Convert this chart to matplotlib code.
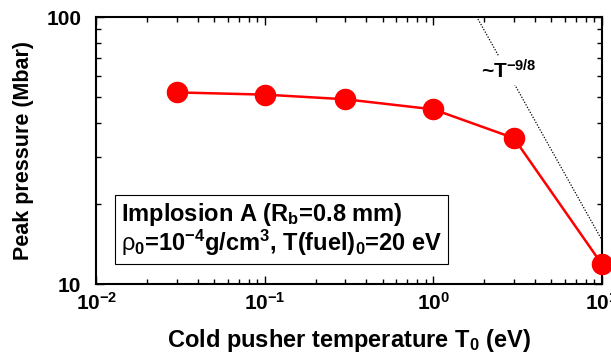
import numpy as np
import matplotlib
matplotlib.use('Agg')
import matplotlib.pyplot as plt
import matplotlib.ticker as ticker

plt.rcParams['font.family'] = ['Liberation Sans', 'DejaVu Sans']
plt.rcParams['font.weight'] = 'bold'
plt.rcParams['axes.labelweight'] = 'bold'
plt.rcParams['mathtext.default'] = 'regular'
plt.rcParams['mathtext.fontset'] = 'custom'
plt.rcParams['mathtext.sf'] = 'Liberation Sans:weight=normal'

# Peak pressure versus cold pusher temperature
T0 = [0.03, 0.1, 0.3, 1.0, 3.0, 10.0]          # eV
P_peak = [52.2, 51.2, 49.2, 45.1, 35.2, 11.85]  # Mbar

# reference scaling line ~T^-9/8, anchored at T = 10 eV
T_ref = [1.5, 10.0]
P_ref_at_10 = 14.6
slope = -9.0 / 8.0

fig = plt.figure(figsize=(6.11, 3.56), dpi=100)
ax = fig.add_axes([0.1579, 0.2022, 0.8273, 0.75])

ax.plot(T0, P_peak, color='#ff0000', lw=1.8, marker='o', ms=14.5,
        clip_on=False, zorder=3)

T_line = np.array(T_ref)
ax.plot(T_line, P_ref_at_10 * (T_line / 10.0) ** slope, color='black',
        ls=(0, (1, 1.3)), lw=0.9, zorder=1)

ax.set_xscale('log')
ax.set_yscale('log')
ax.set_xlim(0.01, 10)
ax.set_ylim(10, 100)

minor_subs = np.arange(2, 10)
ax.xaxis.set_major_locator(ticker.LogLocator(base=10, numticks=20))
ax.xaxis.set_minor_locator(ticker.LogLocator(base=10, subs=minor_subs, numticks=20))
ax.xaxis.set_minor_formatter(ticker.NullFormatter())
ax.yaxis.set_major_locator(ticker.FixedLocator([10, 100]))
ax.yaxis.set_minor_locator(ticker.FixedLocator(minor_subs * 10))
ax.yaxis.set_major_formatter(ticker.FuncFormatter(lambda v, p: f'{v:g}'))
ax.yaxis.set_minor_formatter(ticker.NullFormatter())

ax.tick_params(which='both', direction='in', top=True, right=True,
               width=1.0, labelsize=15)
ax.tick_params(which='major', length=6)
ax.tick_params(which='minor', length=3.5)
ax.tick_params(axis='y', pad=11)
ax.tick_params(axis='x', pad=6)
for s in ax.spines.values():
    s.set_linewidth(1.5)

ax.set_xlabel('Cold pusher temperature T$_0$ (eV)', fontsize=17, labelpad=9)
ax.set_ylabel('Peak pressure (Mbar)', fontsize=15.5, labelpad=9)

ax.text(1.91, 59, '~T$^{-9/8}$', fontsize=15, ha='left', va='baseline',
        bbox=dict(facecolor='white', edgecolor='none', pad=2), zorder=2)

ax.text(0.048, 0.125,
        'Implosion A (R$_b$=0.8 mm)\n'
        '$\\mathsf{\\rho}_0$=10$^{-4}$g/cm$^3$, T(fuel)$_0$=20 eV',
        transform=ax.transAxes, fontsize=17, ha='left', va='baseline',
        linespacing=1.0,
        bbox=dict(boxstyle='square,pad=0.25', facecolor='white',
                  edgecolor='black', lw=0.8))

fig.savefig('out.png', dpi=100)
